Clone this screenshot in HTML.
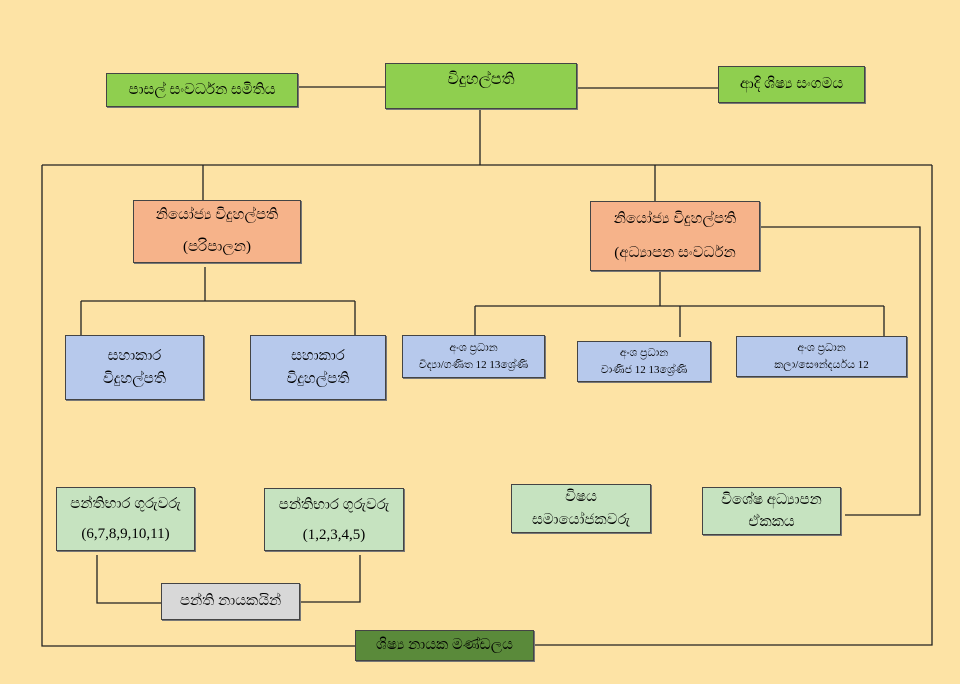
<!DOCTYPE html>
<html><head><meta charset="utf-8"><style>
body{margin:0;width:960px;height:684px;background:#fde3a5;position:relative;overflow:hidden;font-family:"Liberation Serif","Noto Sans CJK SC",serif;}
.b{position:absolute;box-sizing:border-box;border:1px solid #444;box-shadow:1px 1px 0 #777;text-align:center;font-size:15px;color:#000;display:flex;flex-direction:column;justify-content:center;align-items:center;line-height:1.5;}
.g{background:#8fcf4f}.o{background:#f6b38a}.bl{background:#b7c9ec}.lg{background:#c6e3c0}.gr{background:#d8d8d8}.dg{background:#5a8a3a}
svg{position:absolute;left:0;top:0}
</style></head><body>
<svg width="960" height="684" fill="none" stroke="#222" stroke-width="1.3">
<path d="M298 87H385M577 88H718M480 109V165M42 165H932M42 165V646H355M534 645H932V165"/>
<path d="M203 165V200M655 165V201M760 227H920V515H845"/>
<path d="M205 267V301M81 301H355M81 301V335M355 301V335"/>
<path d="M660 271V306M475 306H884M475 306V339M680 306V337M884 306V337"/>
<path d="M97 555V603H161M300 602H360V555"/>
</svg>
<div class="b g" style="left:385px;top:63px;width:192px;height:46px;justify-content:flex-start;padding-top:4px;font-size:16px">විදුහල්පති</div>
<div class="b g" style="left:106px;top:73px;width:192px;height:34px">පාසල් සංවර්ධන සමිතිය</div>
<div class="b g" style="left:718px;top:66px;width:147px;height:37px">ආදි ශිෂ්‍ය සංගමය</div>
<div class="b o" style="left:133px;top:200px;width:168px;height:63px;line-height:2.1">නියෝජ්‍ය විදුහල්පති<br>(පරිපාලන)</div>
<div class="b o" style="left:590px;top:201px;width:170px;height:70px;line-height:2.3">නියෝජ්‍ය විදුහල්පති<br>(අධ්‍යාපන සංවර්ධන</div>
<div class="b bl" style="left:65px;top:335px;width:139px;height:65px">සහාකාර<br>විදුහල්පති</div>
<div class="b bl" style="left:250px;top:335px;width:136px;height:65px">සහාකාර<br>විදුහල්පති</div>
<div class="b bl" style="left:402px;top:335px;width:143px;height:43px;font-size:11px">අංශ ප්‍රධාන<br>විද්‍යා/ගණිත 12 13ශ්‍රේණි</div>
<div class="b bl" style="left:577px;top:341px;width:134px;height:41px;font-size:11px">අංශ ප්‍රධාන<br>වාණිජ 12 13ශ්‍රේණි</div>
<div class="b bl" style="left:736px;top:336px;width:171px;height:41px;font-size:11px">අංශ ප්‍රධාන<br>කලා/සෞන්දර්යය 12</div>
<div class="b lg" style="left:56px;top:487px;width:139px;height:64px;line-height:2">පන්තිභාර ගුරුවරු<br>(6,7,8,9,10,11)</div>
<div class="b lg" style="left:264px;top:488px;width:140px;height:63px;line-height:2">පන්තිභාර ගුරුවරු<br>(1,2,3,4,5)</div>
<div class="b lg" style="left:511px;top:484px;width:140px;height:49px">විෂය<br>සමායෝජකවරු</div>
<div class="b lg" style="left:702px;top:487px;width:139px;height:48px">විශේෂ අධ්‍යාපන<br>ඒකකය</div>
<div class="b gr" style="left:161px;top:583px;width:139px;height:37px">පන්ති නායකයින්</div>
<div class="b dg" style="left:355px;top:630px;width:179px;height:31px">ශිෂ්‍ය නායක මණ්ඩලය</div>
</body></html>
